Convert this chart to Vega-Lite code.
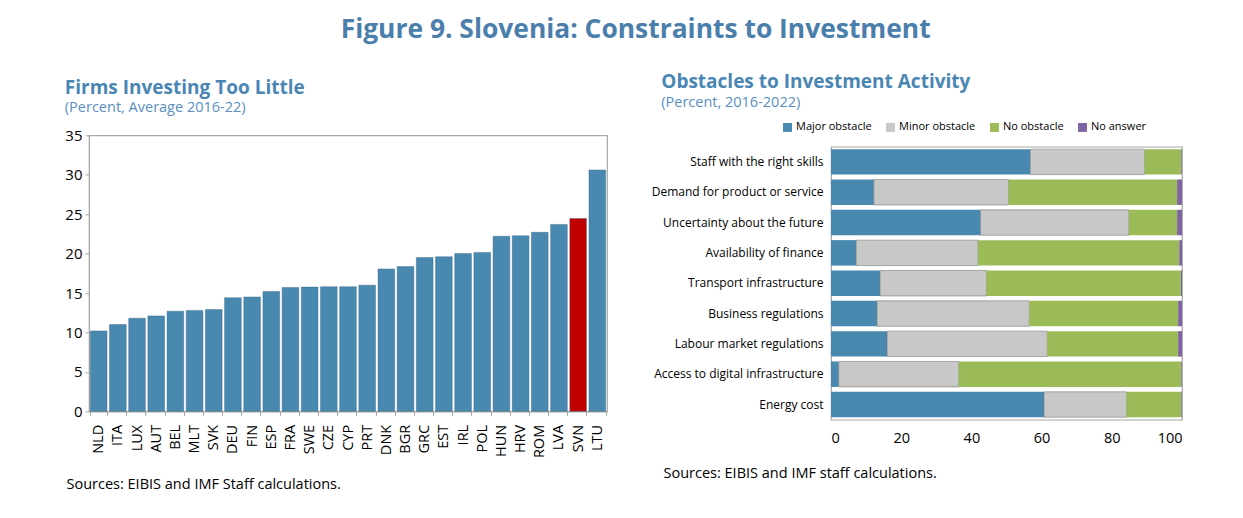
{
  "$schema": "https://vega.github.io/schema/vega-lite/v6.json",
  "background": "white",
  "padding": {"left": 64, "top": 17, "right": 10, "bottom": 10},
  "title": {
    "text": "Figure 9. Slovenia: Constraints to Investment",
    "fontSize": 26.4, "fontWeight": "bold", "color": "#4A7EAB", "anchor": "middle", "offset": 29, "dx": 12, "font": "Open Sans"
  },
  "spacing": 42,
  "center": true,
  "bounds": "full",
  "resolve": {"legend": {"color": "independent"}, "scale": {"color": "independent"}},
  "config": {
    "font": "Open Sans",
    "view": {"stroke": "#A6A6A6", "strokeWidth": 1.2},
    "axis": {"labelColor": "#000", "domainColor": "#A6A6A6", "tickColor": "#A6A6A6", "grid": false, "titleFontWeight": "normal", "titleColor": "#000"},
    "title": {"anchor": "start", "frame": "bounds", "color": "#4A86B3", "subtitleColor": "#5A8FBF", "font": "Open Sans", "subtitleFont": "Open Sans"}
  },
  "hconcat": [
    {
      "width": 518, "height": 276,
      "title": {"text": "Firms Investing Too Little", "subtitle": "(Percent, Average 2016-22)", "fontSize": 19, "subtitleFontSize": 14.5, "fontWeight": "bold", "offset": 14, "subtitlePadding": 3},
      "data": {"values": [
        {"country": "NLD", "value": 10.2}, {"country": "ITA", "value": 11.0}, {"country": "LUX", "value": 11.8},
        {"country": "AUT", "value": 12.1}, {"country": "BEL", "value": 12.7}, {"country": "MLT", "value": 12.8},
        {"country": "SVK", "value": 12.9}, {"country": "DEU", "value": 14.4}, {"country": "FIN", "value": 14.5},
        {"country": "ESP", "value": 15.2}, {"country": "FRA", "value": 15.7}, {"country": "SWE", "value": 15.75},
        {"country": "CZE", "value": 15.8}, {"country": "CYP", "value": 15.8}, {"country": "PRT", "value": 16.0},
        {"country": "DNK", "value": 18.05}, {"country": "BGR", "value": 18.35}, {"country": "GRC", "value": 19.5},
        {"country": "EST", "value": 19.6}, {"country": "IRL", "value": 20.0}, {"country": "POL", "value": 20.15},
        {"country": "HUN", "value": 22.2}, {"country": "HRV", "value": 22.25}, {"country": "ROM", "value": 22.7},
        {"country": "LVA", "value": 23.7}, {"country": "SVN", "value": 24.45}, {"country": "LTU", "value": 30.6}
      ]},
      "mark": {"type": "bar", "stroke": "#2F5F80", "strokeWidth": 0.4},
      "encoding": {
        "x": {"field": "country", "type": "nominal", "sort": null,
              "scale": {"paddingInner": 0.13, "paddingOuter": 0.07},
              "axis": {"labelAngle": -90, "labelFontSize": 14.5, "labelPadding": 9, "tickBand": "extent", "tickSize": 4,
                       "title": "Sources: EIBIS and IMF Staff calculations.", "titleFontSize": 14.5, "titleAnchor": "start", "titleAlign": "left",
                       "titleX": -23, "titlePadding": 20}},
        "y": {"field": "value", "type": "quantitative", "scale": {"domain": [0, 35]},
              "axis": {"values": [0, 5, 10, 15, 20, 25, 30, 35], "labelFontSize": 15, "tickSize": 4, "labelPadding": 3, "title": null}},
        "color": {"condition": {"test": "datum.country === 'SVN'", "value": "#C00000"}, "value": "#4A89AF"}
      }
    },
    {
      "width": 351, "height": 273,
      "title": {"text": "Obstacles to Investment Activity", "subtitle": "(Percent, 2016-2022)", "fontSize": 19, "subtitleFontSize": 14.5, "fontWeight": "bold", "dx": 10, "offset": 12, "subtitlePadding": 4},
      "data": {"values": [
        {"obstacle": "Staff with the right skills", "type": "Major obstacle", "rank": 1, "value": 56.8},
        {"obstacle": "Staff with the right skills", "type": "Minor obstacle", "rank": 2, "value": 32.5},
        {"obstacle": "Staff with the right skills", "type": "No obstacle", "rank": 3, "value": 10.5},
        {"obstacle": "Staff with the right skills", "type": "No answer", "rank": 4, "value": 0.2},
        {"obstacle": "Demand for product or service ", "type": "Major obstacle", "rank": 1, "value": 12.2},
        {"obstacle": "Demand for product or service ", "type": "Minor obstacle", "rank": 2, "value": 38.4},
        {"obstacle": "Demand for product or service ", "type": "No obstacle", "rank": 3, "value": 48.0},
        {"obstacle": "Demand for product or service ", "type": "No answer", "rank": 4, "value": 1.4},
        {"obstacle": "Uncertainty about the future", "type": "Major obstacle", "rank": 1, "value": 42.6},
        {"obstacle": "Uncertainty about the future", "type": "Minor obstacle", "rank": 2, "value": 42.3},
        {"obstacle": "Uncertainty about the future", "type": "No obstacle", "rank": 3, "value": 13.7},
        {"obstacle": "Uncertainty about the future", "type": "No answer", "rank": 4, "value": 1.4},
        {"obstacle": "Availability of finance", "type": "Major obstacle", "rank": 1, "value": 7.2},
        {"obstacle": "Availability of finance", "type": "Minor obstacle", "rank": 2, "value": 34.7},
        {"obstacle": "Availability of finance", "type": "No obstacle", "rank": 3, "value": 57.3},
        {"obstacle": "Availability of finance", "type": "No answer", "rank": 4, "value": 0.8},
        {"obstacle": "Transport infrastructure", "type": "Major obstacle", "rank": 1, "value": 14.0},
        {"obstacle": "Transport infrastructure", "type": "Minor obstacle", "rank": 2, "value": 30.3},
        {"obstacle": "Transport infrastructure", "type": "No obstacle", "rank": 3, "value": 55.4},
        {"obstacle": "Transport infrastructure", "type": "No answer", "rank": 4, "value": 0.3},
        {"obstacle": "Business regulations", "type": "Major obstacle", "rank": 1, "value": 13.1},
        {"obstacle": "Business regulations", "type": "Minor obstacle", "rank": 2, "value": 43.4},
        {"obstacle": "Business regulations", "type": "No obstacle", "rank": 3, "value": 42.4},
        {"obstacle": "Business regulations", "type": "No answer", "rank": 4, "value": 1.1},
        {"obstacle": "Labour market regulations", "type": "Major obstacle", "rank": 1, "value": 16.0},
        {"obstacle": "Labour market regulations", "type": "Minor obstacle", "rank": 2, "value": 45.6},
        {"obstacle": "Labour market regulations", "type": "No obstacle", "rank": 3, "value": 37.3},
        {"obstacle": "Labour market regulations", "type": "No answer", "rank": 4, "value": 1.1},
        {"obstacle": "Access to digital infrastructure", "type": "Major obstacle", "rank": 1, "value": 2.2},
        {"obstacle": "Access to digital infrastructure", "type": "Minor obstacle", "rank": 2, "value": 34.2},
        {"obstacle": "Access to digital infrastructure", "type": "No obstacle", "rank": 3, "value": 63.4},
        {"obstacle": "Access to digital infrastructure", "type": "No answer", "rank": 4, "value": 0.2},
        {"obstacle": "Energy cost", "type": "Major obstacle", "rank": 1, "value": 60.7},
        {"obstacle": "Energy cost", "type": "Minor obstacle", "rank": 2, "value": 23.5},
        {"obstacle": "Energy cost", "type": "No obstacle", "rank": 3, "value": 15.6},
        {"obstacle": "Energy cost", "type": "No answer", "rank": 4, "value": 0.2}
      ]},
      "mark": {"type": "bar"},
      "encoding": {
        "y": {"field": "obstacle", "type": "nominal", "sort": null,
              "scale": {"paddingInner": 0.16, "paddingOuter": 0.08},
              "axis": {"labelFontSize": 12, "labelPadding": 8, "domain": false, "ticks": false, "title": null}},
        "x": {"field": "value", "type": "quantitative", "stack": "zero", "scale": {"domain": [0, 100]},
              "axis": {"values": [0, 20, 40, 60, 80, 100], "labelFontSize": 14.5, "labelPadding": 12, "tickSize": 0, "domain": false,
                       "title": "Sources: EIBIS and IMF staff calculations.", "titleFontSize": 14.5, "titleAnchor": "start", "titleAlign": "left",
                       "titleX": -168, "titlePadding": 21}},
        "order": {"field": "rank", "type": "quantitative"},
        "stroke": {"condition": {"test": "datum.type === 'Minor obstacle'", "value": "#666666"}, "value": null},
        "strokeWidth": {"value": 0.5},
        "color": {"field": "type", "type": "nominal",
                  "scale": {"domain": ["Major obstacle", "Minor obstacle", "No obstacle", "No answer"], "range": ["#4A89AF", "#C8C8C8", "#9BBB59", "#8064A2"]},
                  "legend": {"orient": "none", "direction": "horizontal", "legendX": -49, "legendY": -25, "title": null,
                             "symbolType": "square", "symbolSize": 80, "symbolStrokeWidth": 0, "labelFontSize": 11, "labelColor": "#000", "columnPadding": 13, "labelOffset": 3}}
      }
    }
  ]
}
